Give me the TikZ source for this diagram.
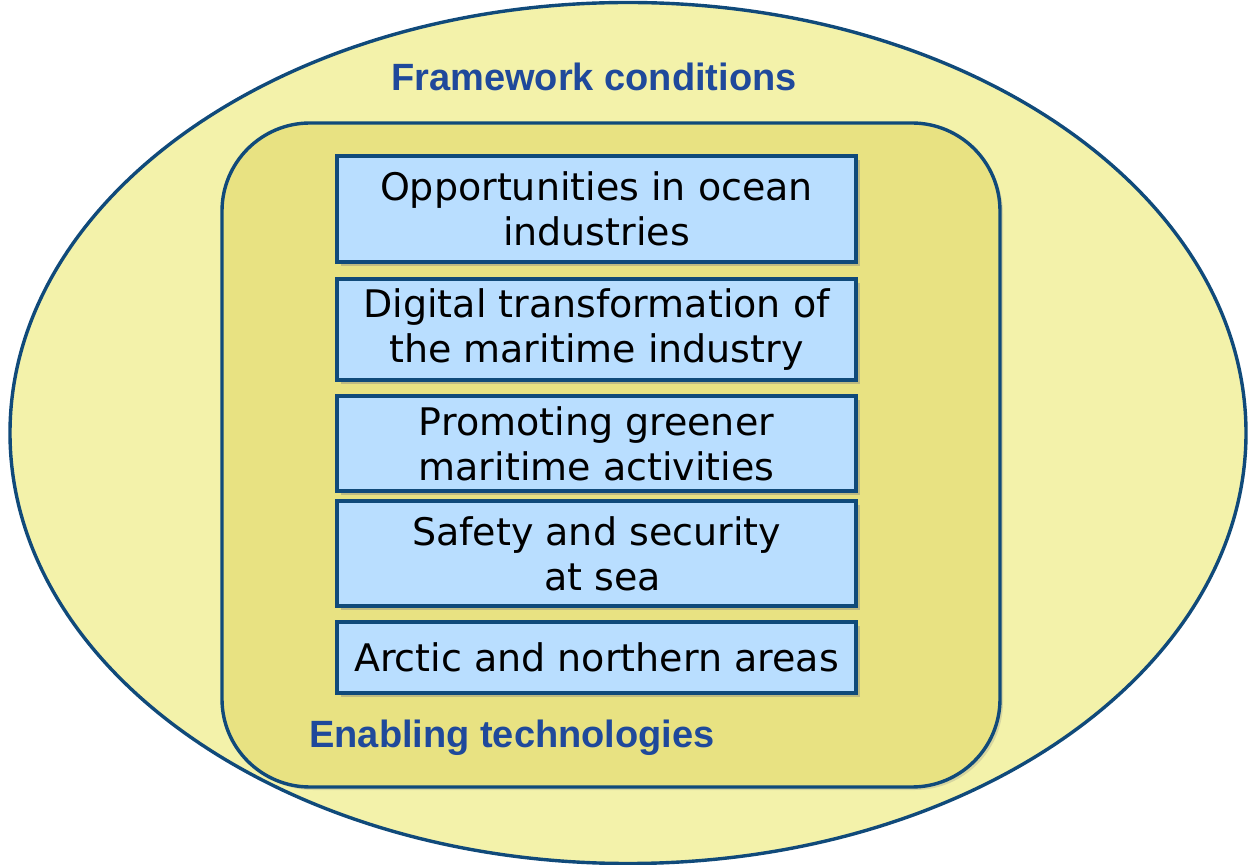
\documentclass[tikz,border=0pt]{standalone}
\usepackage{fontspec}
\setmainfont{DejaVu Sans}
\newfontfamily\headfont{Liberation Sans}
\usepackage{tikz}
\usetikzlibrary{shapes.geometric,shadows}
\definecolor{outerfill}{RGB}{243,242,170}
\definecolor{innerfill}{RGB}{232,226,130}
\definecolor{boxfill}{RGB}{185,222,255}
\definecolor{edgeblue}{RGB}{16,74,122}
\definecolor{titleblue}{RGB}{31,73,155}

\begin{document}
\begin{tikzpicture}[x=0.5pt,y=-0.5pt,
    topic/.style={draw=edgeblue, line width=1.9pt, fill=boxfill, inner sep=0pt,
      minimum width=259.5pt, align=center, font=\fontsize{19}{22.5}\selectfont,
      drop shadow={shadow xshift=2pt, shadow yshift=-2pt, opacity=0.4}},
    heading/.style={font=\headfont\bfseries\fontsize{19}{22}\selectfont, text=titleblue}]
    \useasboundingbox (0,0) rectangle (1248,865);
    \node[ellipse, draw=edgeblue, line width=1.7pt, fill=outerfill, inner sep=0pt,
      minimum width=618pt, minimum height=430.5pt] (frame) at (628,433) {};
    \node[draw=edgeblue, line width=1.7pt, fill=innerfill, rounded corners=44pt,
      minimum width=389pt, minimum height=332pt,
      drop shadow={shadow xshift=1.5pt, shadow yshift=-1.5pt, opacity=0.25}] (enab) at (611,455) {};
    \node[heading] (fc) at (594,77) {Framework conditions};
    \node[heading] (et) at (512,738) {Enabling technologies};
    \node[topic, minimum height=53pt]   (a) at (596.5,209)   {Opportunities in ocean\\industries};
    \node[topic, minimum height=50.5pt] (b) at (596.5,329.5) {Digital transformation of\\the maritime industry};
    \node[topic, minimum height=47.5pt] (c) at (596.5,443.5) {Promoting greener\\maritime activities};
    \node[topic, minimum height=52.5pt] (d) at (596.5,553.5) {Safety and security\\\hspace*{6pt}at sea};
    \node[topic, minimum height=35.5pt] (e) at (596.5,657.5) {Arctic and northern areas};
  \end{tikzpicture}
\end{document}
